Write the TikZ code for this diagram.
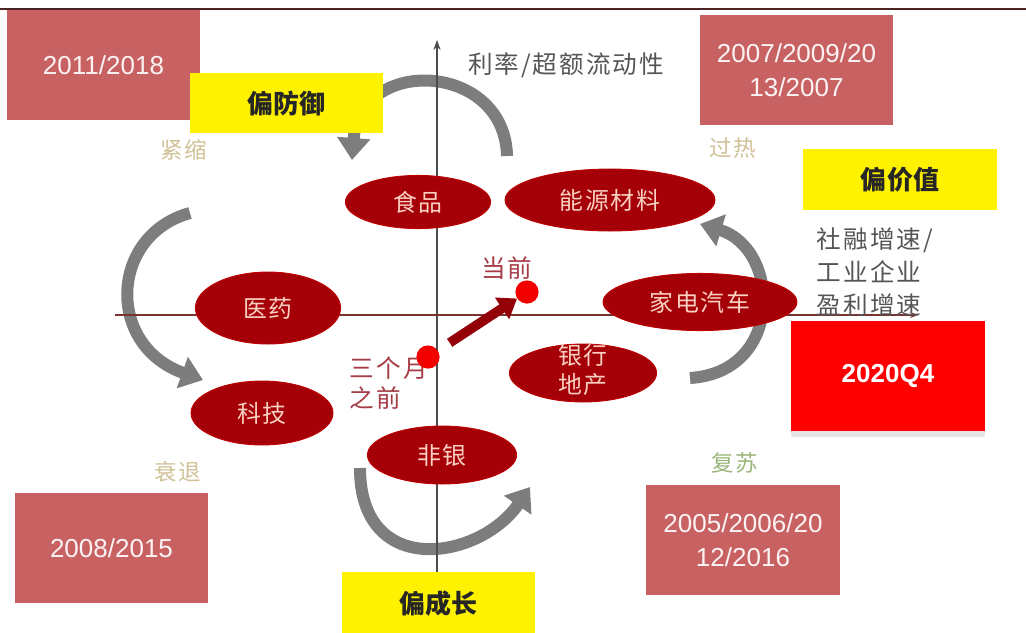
\documentclass[tikz,border=0pt]{standalone}
\usepackage{fontspec}
\setmainfont{Liberation Sans}
\newfontfamily\cjk[LetterSpace=8]{Noto Sans CJK SC}
\newfontfamily\cjkbox{Noto Sans CJK SC}
\usetikzlibrary{shapes.geometric,arrows.meta,shadows}
\definecolor{rosebox}{RGB}{200,98,98}
\definecolor{sectorred}{RGB}{165,0,8}
\definecolor{sectortext}{RGB}{250,208,192}
\definecolor{turngray}{RGB}{125,125,125}
\definecolor{phasetan}{RGB}{208,192,150}
\definecolor{axislabel}{RGB}{85,85,85}
\definecolor{dotlabel}{RGB}{165,60,70}
\definecolor{toprule}{RGB}{75,35,35}
\tikzset{
  yearbox/.style={fill=rosebox, text=white!92!rosebox, minimum width=4.83cm, minimum height=2.75cm,
    align=center, font=\fontsize{18.5}{24}\selectfont},
  stylebox/.style={fill=yellow, minimum width=4.83cm, minimum height=1.5cm, text=black!85,
    font=\cjkbox\bfseries\fontsize{18.5}{22}\selectfont},
  sector/.style={ellipse, fill=sectorred, draw=red!75!black, line width=0.6pt, inner sep=0pt,
    text=sectortext, font=\cjk\fontsize{17}{20}\selectfont},
  phase/.style={text=phasetan, font=\cjk\fontsize{16}{20}\selectfont},
  axistext/.style={text=axislabel, font=\cjk\fontsize{17.5}{23.5}\selectfont},
  reddot/.style={circle, fill=red!95!black, minimum size=0.58cm, inner sep=0pt},
  cyclearrow/.style={draw=turngray, line width=0.3cm, -{Triangle[width=0.8cm,length=0.55cm]}},
}

\begin{document}
\begin{tikzpicture}[x=0.025cm, y=-0.025cm]
  \useasboundingbox (0,0) rectangle (1026,632);
  \draw[toprule, line width=1.5pt] (0,9) -- (1026,9);

  \coordinate (topA)   at (507,156);
  \coordinate (topB)   at (352,160);
  \coordinate (leftA)  at (190,213);
  \coordinate (leftB)  at (203,380);
  \coordinate (rightA) at (690,378);
  \coordinate (rightB) at (700,224);
  \coordinate (botA)   at (360,468);
  \coordinate (botB)   at (530,487);

  \draw[cyclearrow] (topA)   .. controls (505,62)  and (360,55)  .. (topB);
  \draw[cyclearrow] (leftA)  .. controls (110,235) and (105,345) .. (leftB);
  \draw[cyclearrow] (rightA) .. controls (785,372) and (780,248) .. (rightB);
  \draw[cyclearrow] (botA)   .. controls (360,580) and (480,560) .. (botB);

  \coordinate (ybot)  at (437,600);
  \coordinate (ytop)  at (437,40);
  \coordinate (xleft) at (115,315);
  \coordinate (xright) at (918,315);
  \draw[black!70, line width=0.9pt, -{Stealth[length=0.25cm,width=0.18cm]}] (ybot) -- (ytop);
  \draw[black!55!red!60!gray, line width=1.2pt, -{Stealth[length=0.2cm,width=0.15cm]}] (xleft) -- (xright);

  \node[axistext] (ylab) at (566,65) {利率/超额流动性};
  \node[axistext, align=left, anchor=west] (xlab) at (812,272) {社融增速/\\工业企业\\盈利增速};

  \node[yearbox] (y2011) at (103.5,65) {2011/2018};
  \node[yearbox] (y2007) at (796.5,70) {2007/2009/20\\13/2007};
  \node[yearbox] (y2008) at (111.5,548) {2008/2015};
  \node[yearbox] (y2005) at (743,540) {2005/2006/20\\12/2016};
  \node[yearbox, fill=red, text=white, font=\bfseries\fontsize{18.5}{24}\selectfont,
        drop shadow={shadow xshift=0pt, shadow yshift=-4pt, opacity=0.2}] (now20) at (888,376) {2020Q4};

  \node[stylebox] (defend) at (286.5,103) {偏防御};
  \node[stylebox] (value)  at (900,179.5) {偏价值};
  \node[stylebox, minimum height=1.6cm] (growth) at (438.5,604) {偏成长};

  \node[phase] (tight)   at (184,150) {紧缩};
  \node[phase] (heat)    at (733,148) {过热};
  \node[phase] (recess)  at (178,472) {衰退};
  \node[phase, text=phasetan!80!green!70!gray] (recover) at (735,463) {复苏};

  \node[sector, minimum width=3.63cm, minimum height=1.33cm] (food)    at (418,202) {食品};
  \node[sector, minimum width=5.25cm, minimum height=1.55cm] (energy)  at (610,200) {能源材料};
  \node[sector, minimum width=3.63cm, minimum height=1.8cm]  (pharma)  at (268,308) {医药};
  \node[sector, minimum width=3.55cm, minimum height=1.6cm]  (tech)    at (262,413) {科技};
  \node[sector, minimum width=4.85cm, minimum height=1.43cm] (appl)    at (700,302) {家电汽车};
  \node[sector, minimum width=3.68cm, minimum height=1.45cm] (bank)    at (583,373)
    {\smash{\raisebox{-0.25em}{\begin{tabular}{@{}c@{}}银行\\地产\end{tabular}}}};
  \node[sector, minimum width=3.73cm, minimum height=1.45cm] (nonbank) at (442,455) {非银};

  \node[text=dotlabel, font=\cjk\fontsize{17.5}{21}\selectfont] (nowlab) at (507,268) {当前};
  \node[text=dotlabel, font=\cjk\fontsize{17.5}{21}\selectfont, align=left, anchor=west] (prevlab)
    at (345,383) {三个月\\之前};
  \node[reddot] (now)  at (527,292) {};
  \node[reddot] (prev) at (428,357) {};

  \draw[sectorred!90!black, line width=0.24cm, shorten <=0.35cm,
        -{Triangle[width=0.62cm,length=0.45cm]}] (prev) -- (now);
\end{tikzpicture}
\end{document}
